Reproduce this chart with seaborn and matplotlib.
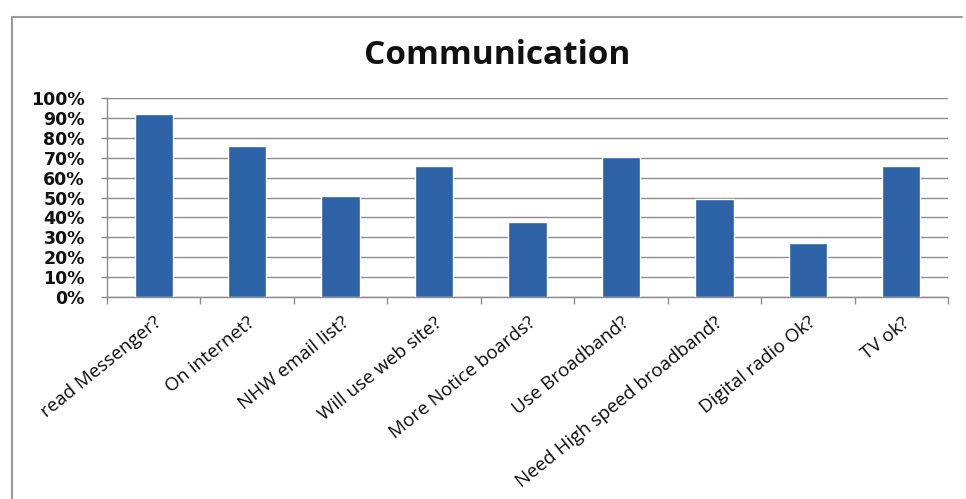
import matplotlib
matplotlib.use("Agg")
import matplotlib.pyplot as plt
import matplotlib.ticker as mticker
from matplotlib.lines import Line2D
import seaborn as sns
import pandas as pd

# Survey answers: share of respondents saying yes to each question
questions = [
    "read Messenger?",
    "On internet?",
    "NHW email list?",
    "Will use web site?",
    "More Notice boards?",
    "Use Broadband?",
    "Need High speed broadband?",
    "Digital radio Ok?",
    "TV ok?",
]
share_yes = [0.92, 0.76, 0.51, 0.66, 0.375, 0.705, 0.49, 0.27, 0.66]
y_ticks = [0.0, 0.1, 0.2, 0.3, 0.4, 0.5, 0.6, 0.7, 0.8, 0.9, 1.0]

df = pd.DataFrame({"question": questions, "share": share_yes})

sns.set_theme(style="white")
plt.rcParams["font.family"] = ["Open Sans", "DejaVu Sans"]

fig = plt.figure(figsize=(9.66, 4.99), dpi=100)
ax = fig.add_axes([0.1108, 0.4048, 0.8706, 0.3988])

sns.barplot(data=df, x="question", y="share", color="#2E62A6",
            width=0.41, saturation=1, ax=ax, zorder=3)

ax.set_ylim(0, 1.0)
ax.set_xlim(-0.5, len(questions) - 0.5)
ax.set_yticks(y_ticks)
ax.yaxis.set_major_formatter(mticker.PercentFormatter(1.0, decimals=0))
ax.yaxis.grid(True, color="#8c8c8c", linewidth=1.0, zorder=0)
ax.set_axisbelow(True)

ax.set_xlabel("")
ax.set_ylabel("")

for side in ("top", "right"):
    ax.spines[side].set_visible(False)
for side in ("left", "bottom"):
    ax.spines[side].set_color("#8c8c8c")
    ax.spines[side].set_linewidth(1.0)

# y labels: bold, set well left of the axis
for lab in ax.get_yticklabels():
    lab.set_fontfamily("DejaVu Sans")
    lab.set_fontweight("bold")
    lab.set_fontsize(12.5)
    lab.set_color("#111111")
ax.tick_params(axis="y", left=True, length=4, width=1, color="#8c8c8c", pad=12)

# x axis: tick marks sit between the categories, labels under each bar
ax.set_xticks(range(len(questions)))
ax.set_xticklabels(questions, rotation=39, ha="right", rotation_mode="anchor",
                   fontsize=13.5, color="#0a0a0a")
ax.tick_params(axis="x", bottom=False, pad=6)
ax.set_xticks([i - 0.5 for i in range(len(questions) + 1)], minor=True)
ax.tick_params(axis="x", which="minor", bottom=True, length=5, width=1,
               color="#8c8c8c")

fig.text(0.515, 0.888, "Communication", ha="center", va="center",
         fontsize=24, fontweight="bold", color="#111111",
         fontfamily=["Open Sans", "DejaVu Sans"])

# outer chart frame (top and left edges)
fig.add_artist(Line2D([12 / 966, 962 / 966], [1 - 17 / 499, 1 - 17 / 499],
                      transform=fig.transFigure, color="#9a9a9a", linewidth=1.5))
fig.add_artist(Line2D([12 / 966, 12 / 966], [0, 1 - 17 / 499],
                      transform=fig.transFigure, color="#9a9a9a", linewidth=1.5))

fig.savefig("out.png", dpi=100, facecolor="white")
